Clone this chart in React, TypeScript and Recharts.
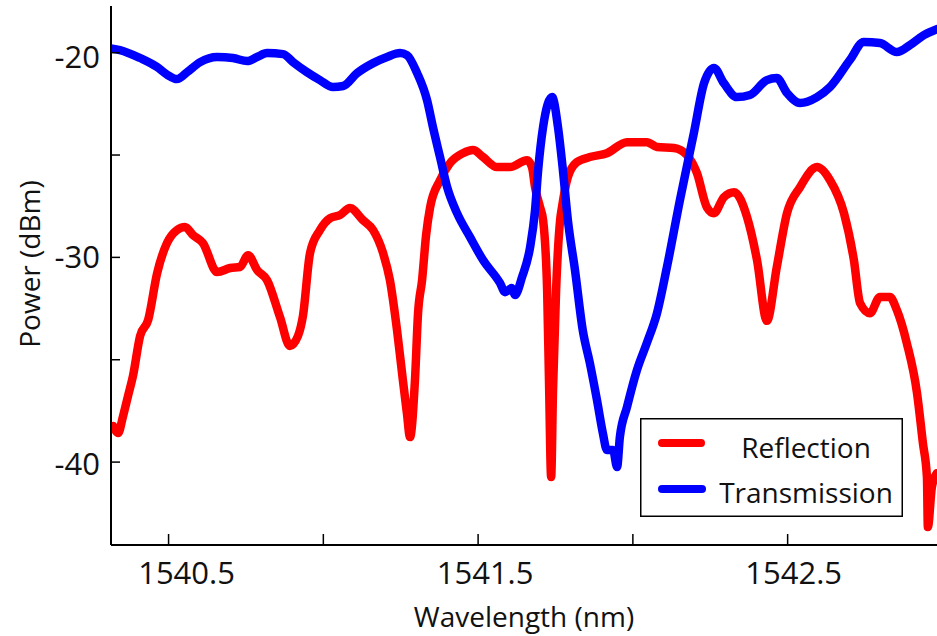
import { LineChart, Line, XAxis, YAxis, Legend } from "recharts";

// Reflection spectrum (red)
const reflectionWl = [
  1540.321, 1540.337, 1540.353, 1540.369, 1540.385, 1540.408, 1540.434, 1540.463, 1540.495, 1540.527,
  1540.553, 1540.579, 1540.611, 1540.657, 1540.699, 1540.731, 1540.757, 1540.786, 1540.818, 1540.86,
  1540.892, 1540.918, 1540.934, 1540.957, 1540.989, 1541.022, 1541.054, 1541.086, 1541.128, 1541.161,
  1541.193, 1541.215, 1541.238, 1541.257, 1541.27, 1541.28, 1541.296, 1541.306, 1541.319, 1541.332,
  1541.345, 1541.377, 1541.409, 1541.451, 1541.484, 1541.516, 1541.561, 1541.603, 1541.658, 1541.674,
  1541.684, 1541.7, 1541.71, 1541.723, 1541.729, 1541.736, 1541.742, 1541.752, 1541.765, 1541.771,
  1541.79, 1541.819, 1541.861, 1541.916, 1541.981, 1542.045, 1542.078, 1542.133, 1542.175, 1542.207,
  1542.239, 1542.262, 1542.294, 1542.327, 1542.369, 1542.401, 1542.433, 1542.465, 1542.498, 1542.54,
  1542.595, 1542.637, 1542.682, 1542.714, 1542.734, 1542.766, 1542.798, 1542.83, 1542.853, 1542.885,
  1542.918, 1542.937, 1542.95, 1542.953, 1542.966, 1542.982,
];
const reflectionDbm = [
  -38.24, -38.58, -37.75, -36.77, -35.79, -33.84, -33.06, -30.77, -29.3, -28.67,
  -28.52, -28.91, -29.3, -30.72, -30.52, -30.47, -29.89, -30.62, -31.11, -32.92,
  -34.33, -33.84, -32.87, -29.79, -28.67, -28.08, -27.93, -27.59, -28.18, -28.67,
  -29.79, -31.11, -33.55, -36.0, -37.61, -38.78, -36.0, -32.72, -31.11, -28.91,
  -27.55, -26.23, -25.4, -24.91, -24.76, -25.1, -25.59, -25.59, -25.25, -25.59,
  -26.57, -27.54, -28.18, -31.6, -36.0, -40.73, -36.49, -31.6, -28.18, -27.54,
  -26.08, -25.35, -25.1, -24.91, -24.37, -24.37, -24.61, -24.66, -25.01, -25.88,
  -27.55, -27.84, -27.06, -26.82, -28.04, -30.13, -33.1, -30.47, -27.84, -26.57,
  -25.59, -26.23, -27.84, -30.13, -32.24, -32.73, -31.94, -31.94, -32.58, -34.19,
  -36.63, -39.07, -40.73, -43.17, -41.22, -40.54,
];

// Transmission spectrum (blue)
const transmissionWl = [
  1540.314, 1540.343, 1540.408, 1540.463, 1540.495, 1540.527, 1540.56, 1540.602, 1540.657, 1540.708,
  1540.754, 1540.786, 1540.818, 1540.87, 1540.902, 1540.947, 1540.989, 1541.031, 1541.064, 1541.109,
  1541.161, 1541.206, 1541.248, 1541.27, 1541.303, 1541.335, 1541.354, 1541.377, 1541.4, 1541.432,
  1541.474, 1541.516, 1541.571, 1541.587, 1541.609, 1541.619, 1541.642, 1541.668, 1541.684, 1541.694,
  1541.71, 1541.739, 1541.758, 1541.774, 1541.79, 1541.813, 1541.838, 1541.861, 1541.884, 1541.903,
  1541.916, 1541.936, 1541.949, 1541.958, 1541.981, 1542.013, 1542.045, 1542.078, 1542.11, 1542.152,
  1542.197, 1542.23, 1542.262, 1542.294, 1542.336, 1542.378, 1542.433, 1542.465, 1542.498, 1542.54,
  1542.595, 1542.637, 1542.701, 1542.746, 1542.798, 1542.853, 1542.895, 1542.94, 1542.982,
];
const transmissionDbm = [
  -19.79, -19.87, -20.26, -20.7, -21.07, -21.29, -20.95, -20.46, -20.21, -20.26,
  -20.41, -20.21, -20.02, -20.07, -20.46, -20.95, -21.34, -21.68, -21.63, -21.0,
  -20.51, -20.21, -20.02, -20.12, -21.0, -22.32, -23.63, -25.1, -26.57, -27.84,
  -29.01, -30.13, -31.26, -31.7, -31.5, -31.84, -30.96, -29.5, -27.69, -25.74,
  -23.63, -22.17, -23.63, -25.74, -28.18, -30.62, -33.55, -35.16, -36.97, -38.58,
  -39.41, -39.41, -40.24, -38.78, -37.31, -35.51, -34.19, -32.72, -30.48, -27.2,
  -23.93, -21.49, -20.75, -21.49, -22.17, -22.07, -21.34, -21.24, -21.97, -22.46,
  -22.17, -21.68, -20.36, -19.48, -19.53, -19.97, -19.63, -19.14, -18.85,
];

const xTicks = [1540.5, 1541, 1541.5, 1542, 1542.5];
const xTickLabels = ["1540.5", "", "1541.5", "", "1542.5"];
const yTicks = [-40, -35, -30, -25, -20];
const yTickLabels = ["-40", "", "-30", "", "-20"];

// the original labels sit a little right of their ticks
const xLabelShift = [18, 0, 7, 0, 6];
const yLabelShift = [2, 0, 0, 0, 4];

const xDomain = [1540.314, 1542.989];
const yDomain = [-44.05, -17.72];

const FONT = "'Open Sans', 'Noto Sans', sans-serif";
const FS = 28;
const TICK_FS = 31;

const toPoints = (wl: number[], dbm: number[]) => wl.map((w, i) => ({ wl: w, dbm: dbm[i] }));
const reflection = toPoints(reflectionWl, reflectionDbm);
const transmission = toPoints(transmissionWl, transmissionDbm);

function BottomTick(props: any) {
  const { x, y, payload } = props;
  const i = xTicks.indexOf(payload.value);
  const label = xTickLabels[i];
  return (
    <g>
      <line x1={x} x2={x} y1={y} y2={y - 11} stroke="#000" strokeWidth={1.5} />
      {label ? (
        <text x={x + xLabelShift[i]} y={y + 39} textAnchor="middle" fontSize={TICK_FS} fontFamily={FONT} fill="#111">
          {label}
        </text>
      ) : null}
    </g>
  );
}

function TopTick(props: any) {
  const { x, y } = props;
  return <line x1={x} x2={x} y1={y} y2={y + 10} stroke="#000" strokeWidth={1.5} />;
}

function LeftTick(props: any) {
  const { x, y, payload } = props;
  const i = yTicks.indexOf(payload.value);
  const label = yTickLabels[i];
  return (
    <g>
      <line x1={x} x2={x + 9} y1={y} y2={y} stroke="#000" strokeWidth={1.5} />
      {label ? (
        <text x={x - 11} y={y + 11 + yLabelShift[i]} textAnchor="end" fontSize={TICK_FS} fontFamily={FONT} fill="#111">
          {label}
        </text>
      ) : null}
    </g>
  );
}

function RightTick(props: any) {
  const { x, y } = props;
  return <line x1={x} x2={x - 9} y1={y} y2={y} stroke="#000" strokeWidth={1.5} />;
}

function LegendBox() {
  return (
    <svg width={263} height={99} style={{ display: "block" }}>
      <rect x={0.75} y={0.75} width={261.5} height={97.5} fill="#fff" stroke="#000" strokeWidth={1.5} />
      <line x1={22} x2={61} y1={25} y2={25} stroke="#ff0000" strokeWidth={8} strokeLinecap="round" />
      <line x1={22} x2={62} y1={71} y2={71} stroke="#0000ff" strokeWidth={8} strokeLinecap="round" />
      <text x={166} y={40} textAnchor="middle" fontSize={FS} fontFamily={FONT} fill="#111">
        Reflection
      </text>
      <text x={166} y={85} textAnchor="middle" fontSize={FS} fontFamily={FONT} fill="#111">
        Transmission
      </text>
    </svg>
  );
}

export default function App() {
  return (
    <div style={{ position: "absolute", left: 0, top: 0, width: 937, height: 636, overflow: "hidden", background: "#fff" }}>
      <LineChart width={939} height={636} margin={{ top: 6, right: 0, bottom: 0, left: 0 }}>
        <XAxis
          dataKey="wl"
          type="number"
          domain={xDomain}
          ticks={xTicks}
          allowDataOverflow
          height={91}
          tickLine={false}
          tickSize={0}
          tickMargin={0}
          interval={0}
          axisLine={{ stroke: "#000", strokeWidth: 2 }}
          tick={<BottomTick />}
          label={() => (
            <text x={524} y={627} textAnchor="middle" fontSize={FS} fontFamily={FONT} fill="#111">
              Wavelength (nm)
            </text>
          )}
        />
        <XAxis
          xAxisId="top"
          orientation="top"
          dataKey="wl"
          type="number"
          domain={xDomain}
          ticks={xTicks}
          allowDataOverflow
          height={0}
          tickLine={false}
          tickSize={0}
          tickMargin={0}
          interval={0}
          axisLine={{ stroke: "#000", strokeWidth: 2 }}
          tick={<TopTick />}
        />
        <YAxis
          type="number"
          domain={yDomain}
          ticks={yTicks}
          allowDataOverflow
          width={111}
          tickLine={false}
          tickSize={0}
          tickMargin={0}
          interval={0}
          axisLine={{ stroke: "#000", strokeWidth: 2 }}
          tick={<LeftTick />}
          label={() => (
            <text
              x={40}
              y={264}
              transform="rotate(-90 40 264)"
              textAnchor="middle"
              fontSize={FS}
              fontFamily={FONT}
              fill="#111"
            >
              Power (dBm)
            </text>
          )}
        />
        <YAxis
          yAxisId="right"
          orientation="right"
          type="number"
          domain={yDomain}
          ticks={yTicks}
          allowDataOverflow
          width={0}
          tickLine={false}
          tickSize={0}
          tickMargin={0}
          interval={0}
          axisLine={{ stroke: "#000", strokeWidth: 2 }}
          tick={<RightTick />}
        />
        <Legend
          layout="horizontal"
          verticalAlign="middle"
          align="center"
          wrapperStyle={{ left: 640, top: 418, width: 263, height: 99 }}
          content={() => <LegendBox />}
        />
        <Line
          data={reflection}
          dataKey="dbm"
          name="Reflection"
          type="monotone"
          stroke="#ff0000"
          strokeWidth={8.5}
          strokeLinejoin="round"
          strokeLinecap="round"
          dot={false}
          activeDot={false}
          isAnimationActive={false}
        />
        <Line
          data={transmission}
          dataKey="dbm"
          name="Transmission"
          type="monotone"
          stroke="#0000ff"
          strokeWidth={8.5}
          strokeLinejoin="round"
          strokeLinecap="round"
          dot={false}
          activeDot={false}
          isAnimationActive={false}
        />
      </LineChart>
    </div>
  );
}
